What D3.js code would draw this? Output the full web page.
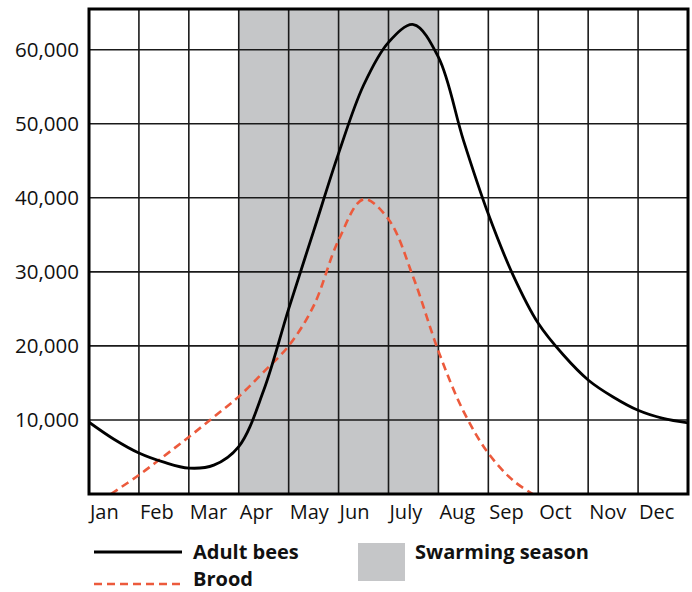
<!DOCTYPE html>
<html>
<head>
<meta charset="utf-8">
<script src="https://cdn.jsdelivr.net/npm/d3@7"></script>
<style>
  html, body { margin: 0; padding: 0; background: #fff; }
  svg { display: block; }
  text { font-family: "Open Sans", "Noto Sans", sans-serif; fill: #111; }
</style>
</head>
<body>
<script>
// ---- Data ----
const months = ["Jan","Feb","Mar","Apr","May","Jun","July","Aug","Sep","Oct","Nov","Dec"];
const yTicks = [10000, 20000, 30000, 40000, 50000, 60000];
// swarming season spans the start of Apr (3) to the end of July (7), in month units
const swarmStart = 3;
const swarmEnd = 7;
// Adult bees: position in months (0 = start of Jan, 12 = end of Dec) and count
const adultX = [0, 0.5, 1, 1.5, 2, 2.5, 3, 3.5, 4, 4.5, 5, 5.5, 6, 6.5, 7, 7.5, 8, 8.5, 9, 9.5, 10, 10.5, 11, 11.5, 12];
const adultY = [9700, 7400, 5540, 4300, 3500, 3900, 6400, 14000, 25000, 35500, 46000, 55200, 61000, 63400, 59000, 47800, 37800, 29500, 23050, 18800, 15400, 13100, 11300, 10200, 9600];
// Brood
const broodX = [0.44, 1, 1.5, 2, 2.5, 3, 3.5, 4, 4.5, 5, 5.5, 6, 6.5, 7, 7.5, 8, 8.5, 8.89];
const broodY = [0, 2560, 5100, 7700, 10400, 13150, 16500, 20000, 25400, 34300, 39800, 37100, 29200, 19300, 11200, 5500, 1800, 0];

// ---- Layout ----
const W = 692, H = 592;
const pL = 89, pR = 688, pT = 9, pB = 494;

const svg = d3.select("body").append("svg").attr("width", W).attr("height", H);

const x = d3.scaleLinear().domain([0, 12]).range([pL, pR]);
const y = d3.scaleLinear().domain([0, 65500]).range([pB, pT]);

// swarming shade
svg.append("rect")
  .attr("x", x(swarmStart)).attr("y", pT)
  .attr("width", x(swarmEnd) - x(swarmStart)).attr("height", pB - pT)
  .attr("fill", "#c5c6c8");

// grid
const grid = svg.append("g").attr("stroke", "#1a1a1a").attr("stroke-width", 1.6);
d3.range(1, 12).forEach(i => {
  grid.append("line").attr("x1", x(i)).attr("x2", x(i)).attr("y1", pT).attr("y2", pB);
});
yTicks.forEach(v => {
  grid.append("line").attr("x1", pL).attr("x2", pR).attr("y1", y(v)).attr("y2", y(v));
});

// clip
svg.append("clipPath").attr("id", "plot")
  .append("rect").attr("x", pL).attr("y", pT).attr("width", pR - pL).attr("height", pB - pT);

const line = d3.line().x(d => x(d[0])).y(d => y(d[1])).curve(d3.curveCatmullRom.alpha(0.5));

const broodPts = broodX.map((v, i) => [v, broodY[i]]);
const adultPts = adultX.map((v, i) => [v, adultY[i]]);

svg.append("path").attr("clip-path", "url(#plot)")
  .attr("d", line(broodPts))
  .attr("fill", "none").attr("stroke", "#ec5a3c").attr("stroke-width", 2.6)
  .attr("stroke-dasharray", "8,5");

svg.append("path").attr("clip-path", "url(#plot)")
  .attr("d", line(adultPts))
  .attr("fill", "none").attr("stroke", "#000").attr("stroke-width", 2.8);

// frame
svg.append("rect").attr("x", pL).attr("y", pT)
  .attr("width", pR - pL).attr("height", pB - pT)
  .attr("fill", "none").attr("stroke", "#000").attr("stroke-width", 3);

// y labels
const fmt = d3.format(",");
svg.append("g").selectAll("text").data(yTicks).join("text")
  .attr("x", 79).attr("y", d => y(d) + 7.5)
  .attr("text-anchor", "end").attr("font-size", 20.5)
  .text(d => fmt(d));

// x labels
svg.append("g").selectAll("text").data(months).join("text")
  .attr("x", (d, i) => x(i) + 1).attr("y", 519)
  .attr("font-size", 20)
  .text(d => d);

// legend
const lg = svg.append("g");
lg.append("line").attr("x1", 94).attr("x2", 182).attr("y1", 552).attr("y2", 552)
  .attr("stroke", "#000").attr("stroke-width", 2.8);
lg.append("text").attr("x", 193).attr("y", 559).attr("font-size", 20).attr("font-weight", "bold").text("Adult bees");
lg.append("line").attr("x1", 94).attr("x2", 182).attr("y1", 584).attr("y2", 584)
  .attr("stroke", "#ec5a3c").attr("stroke-width", 2.6).attr("stroke-dasharray", "8,5");
lg.append("text").attr("x", 193).attr("y", 586).attr("font-size", 20).attr("font-weight", "bold").text("Brood");
lg.append("rect").attr("x", 358).attr("y", 543).attr("width", 47).attr("height", 38).attr("fill", "#c5c6c8");
lg.append("text").attr("x", 415).attr("y", 559).attr("font-size", 20).attr("font-weight", "bold").text("Swarming season");
</script>
</body>
</html>
